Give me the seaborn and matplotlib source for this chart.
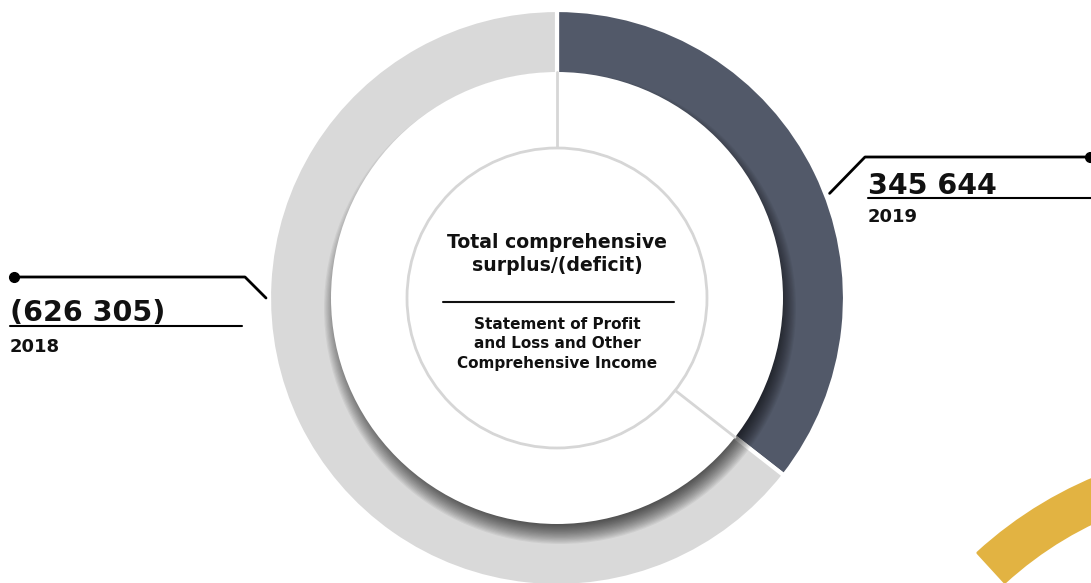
import matplotlib.pyplot as plt
import matplotlib.patches as mpatches
import numpy as np
import seaborn as sns

years = ["2019", "2018"]
values = [345644, 626305]
value_labels = ["345 644", "(626 305)"]
colors = ["#525969", "#d9d9d9"]
title_text = "Total comprehensive\nsurplus/(deficit)"
sub_text = "Statement of Profit\nand Loss and Other\nComprehensive Income"

sns.set_theme(style="white")
plt.rcParams["font.family"] = ["DejaVu Sans"]

W, H = 1091, 583
fig = plt.figure(figsize=(W / 100, H / 100), dpi=100)
ax = fig.add_axes([0, 0, 1, 1])

cx, cy = 557, H - 298
r_out, r_disk, r_in = 288, 226, 150

ax.pie(values, colors=colors, startangle=90, counterclock=False,
       center=(cx, cy), radius=r_out,
       wedgeprops=dict(width=130, edgecolor="white", linewidth=3))

# soft shadow below the white disk
for i in range(20):
    ax.add_patch(mpatches.Circle((cx + 3, cy - 10), r_disk + 10 - i * 1.2,
                                 color="black", alpha=0.05, lw=0, zorder=2))
ax.add_patch(mpatches.Circle((cx, cy), r_disk, color="white", lw=0, zorder=3))

# boundary lines between segments
total = sum(values)
bounds = [90, 90 - 360 * values[0] / total]
for a in bounds:
    t = np.deg2rad(a)
    ax.plot([cx + r_in * np.cos(t), cx + r_disk * np.cos(t)],
            [cy + r_in * np.sin(t), cy + r_disk * np.sin(t)],
            color="#d6d6d6", lw=2, zorder=4)

ax.add_patch(mpatches.Circle((cx, cy), r_in, facecolor="white",
                             edgecolor="#d6d6d6", lw=2, zorder=5))

# centre text
ax.text(cx, H - 254, title_text, ha="center", va="center", fontsize=13.6,
        fontweight="bold", color="#111111", linespacing=1.3, zorder=6)
ax.plot([443, 674], [H - 302, H - 302], color="#111111", lw=1.5, zorder=6)
ax.text(cx, H - 344, sub_text, ha="center", va="center", fontsize=11,
        fontweight="bold", color="#111111", linespacing=1.35, zorder=6)

# callouts
ang_r = np.deg2rad(21)
p0 = (cx + (r_out + 4) * np.cos(ang_r), cy + (r_out + 4) * np.sin(ang_r))
ax.plot([p0[0], 865, W], [p0[1], H - 157, H - 157], color="black", lw=2,
        zorder=6, clip_on=False)
ax.plot([W - 1], [H - 157], "o", color="black", ms=7, zorder=6)
ax.plot([868, W], [H - 198, H - 198], color="black", lw=1.5, zorder=6)
ax.text(868, H - 194, value_labels[0], ha="left", va="baseline", fontsize=20.5,
        fontweight="bold", color="#111111")
ax.text(868, H - 222, years[0], ha="left", va="baseline", fontsize=13,
        fontweight="bold", color="#111111")

p1 = (cx - r_out - 3, cy)
ax.plot([p1[0], 245, 14], [p1[1], H - 277, H - 277], color="black", lw=2,
        zorder=6)
ax.plot([14], [H - 277], "o", color="black", ms=7, zorder=6)
ax.plot([10, 242], [H - 326, H - 326], color="black", lw=1.5, zorder=6)
ax.text(10, H - 321, value_labels[1], ha="left", va="baseline", fontsize=20.5,
        fontweight="bold", color="#111111")
ax.text(10, H - 352, years[1], ha="left", va="baseline", fontsize=13,
        fontweight="bold", color="#111111")

# decorative yellow arc
ax.add_patch(mpatches.Wedge((1250, H - 850), 403, 40, 132.5, width=40,
                            facecolor="#e2b342", edgecolor="#e2b342",
                            lw=2, joinstyle="round", zorder=1))

ax.set_xlim(0, W)
ax.set_ylim(0, H)
ax.set_aspect("equal")
ax.axis("off")
fig.savefig("out.png", dpi=100)
